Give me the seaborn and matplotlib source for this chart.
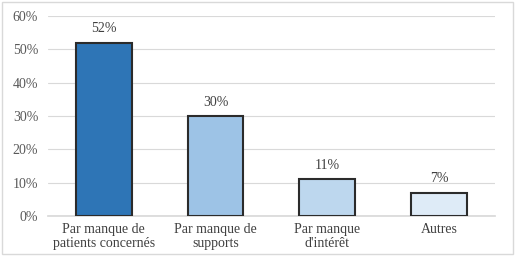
import matplotlib
matplotlib.use("Agg")
import matplotlib.pyplot as plt
import seaborn as sns
import pandas as pd

categories = ["Par manque de\npatients concernés", "Par manque de\nsupports", "Par manque\nd'intérêt", "Autres"]
values = [52, 30, 11, 7]
labels = ["52%", "30%", "11%", "7%"]
colors = ["#2E75B6", "#9DC3E6", "#BDD7EE", "#DEEBF7"]

sns.set_theme(style="white")
plt.rcParams['font.family'] = ['Liberation Serif', 'DejaVu Serif']

fig = plt.figure(figsize=(5.15, 2.56), dpi=100)
fig.patch.set_facecolor("white")
ax = fig.add_axes([0.093, 0.156, 0.868, 0.781])

df = pd.DataFrame({"cat": categories, "val": values})
sns.barplot(data=df, x="cat", y="val", hue="cat", palette=colors, legend=False,
            saturation=1, width=0.5, edgecolor="#2b2b2b", linewidth=1.5, ax=ax, zorder=3)

for i, (v, t) in enumerate(zip(values, labels)):
    ax.text(i, v + 2.2, t, ha="center", va="bottom", fontsize=10, color="#404040")

ax.set_ylim(0, 60)
ax.set_yticks(range(0, 61, 10))
ax.set_yticklabels([f"{t}%" for t in range(0, 61, 10)], fontsize=10, color="#595959")
ax.tick_params(axis="x", labelsize=10, colors="#404040", length=0, pad=5)
for lab in ax.get_xticklabels():
    lab.set_linespacing(1.1)
ax.tick_params(axis="y", length=0, pad=7)
ax.set_xlabel("")
ax.set_ylabel("")
ax.grid(axis="y", color="#d9d9d9", linewidth=0.8, zorder=0)
for s in ["top", "right", "left"]:
    ax.spines[s].set_visible(False)
ax.spines["bottom"].set_color("#d9d9d9")
ax.set_xlim(-0.5, 3.5)

# outer frame
fig.add_artist(plt.Rectangle((0.004, 0.006), 0.992, 0.988, transform=fig.transFigure,
                             fill=False, edgecolor="#d9d9d9", linewidth=1))

fig.savefig("out.png", dpi=100)
